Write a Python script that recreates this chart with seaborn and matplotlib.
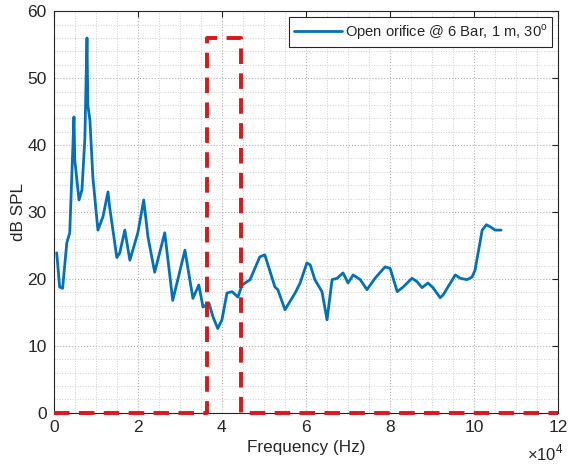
import numpy as np
import pandas as pd
import seaborn as sns
import matplotlib.pyplot as plt
from matplotlib.ticker import MultipleLocator, FuncFormatter

# Spectrum (frequency in units of 1e4 Hz, level in dB SPL)
freq_e4 = [0.07, 0.14, 0.21, 0.31, 0.38, 0.48, 0.50, 0.60, 0.67, 0.74, 0.79, 0.81,
           0.86, 0.93, 1.05, 1.17, 1.29, 1.33, 1.50, 1.57, 1.69, 1.81, 2.00, 2.14,
           2.24, 2.40, 2.64, 2.83, 3.12, 3.31, 3.45, 3.55, 3.69, 3.79, 3.90, 4.00,
           4.12, 4.24, 4.38, 4.48, 4.67, 4.90, 5.02, 5.26, 5.33, 5.50, 5.74, 5.86,
           6.02, 6.10, 6.21, 6.38, 6.50, 6.62, 6.74, 6.88, 7.00, 7.12, 7.29, 7.45,
           7.64, 7.88, 8.00, 8.17, 8.31, 8.52, 8.64, 8.76, 8.90, 9.02, 9.19, 9.26,
           9.55, 9.67, 9.83, 9.95, 10.02, 10.19, 10.29, 10.38, 10.50, 10.64]
spl_db = [23.9, 18.8, 18.6, 25.4, 26.9, 44.2, 37.8, 31.8, 33.3, 41.0, 56.0, 46.0,
          43.7, 35.2, 27.3, 29.3, 33.0, 30.7, 23.2, 23.9, 27.3, 22.8, 26.9, 31.8,
          26.3, 21.0, 26.9, 16.8, 24.3, 17.1, 19.1, 15.8, 16.4, 14.3, 12.6, 13.9,
          17.9, 18.1, 17.3, 19.1, 19.9, 23.3, 23.6, 18.8, 18.4, 15.4, 17.9, 19.4,
          22.4, 22.1, 19.9, 18.1, 13.9, 19.9, 20.1, 20.9, 19.4, 20.6, 19.9, 18.4,
          20.1, 21.8, 21.6, 18.1, 18.8, 20.1, 19.6, 18.7, 19.4, 18.7, 17.2, 17.6,
          20.6, 20.1, 19.9, 20.3, 21.3, 27.3, 28.1, 27.8, 27.3, 27.3]

# Highlighted band outline (dashed red)
band_x_e4 = [0, 3.64, 3.64, 4.45, 4.45, 12]
band_y = [0, 0, 56, 56, 0, 0]

legend_label = "Open orifice @ 6 Bar, 1 m, 30$^{\\mathrm{o}}$"

df = pd.DataFrame({"Frequency": np.array(freq_e4) * 1e4, "SPL": spl_db})

sns.set_style("white")
plt.rcParams["font.family"] = ["Liberation Sans", "DejaVu Sans"]
plt.rcParams["mathtext.fontset"] = "custom"
plt.rcParams["mathtext.rm"] = "Liberation Sans"

fig = plt.figure(figsize=(5.72, 4.67), dpi=100)
ax = fig.add_axes([0.094, 0.116, 0.882, 0.860])

sns.lineplot(data=df, x="Frequency", y="SPL", ax=ax, color="#0072BD",
             linewidth=2, label=legend_label)
ax.plot(np.array(band_x_e4) * 1e4, band_y, color="#e01515", linewidth=2.8,
        dashes=(4, 2.4), clip_on=False, zorder=3)

ax.set_xlim(0, 12e4)
ax.set_ylim(0, 60)
ax.xaxis.set_major_locator(MultipleLocator(2e4))
ax.xaxis.set_minor_locator(MultipleLocator(0.5e4))
ax.yaxis.set_major_locator(MultipleLocator(10))
ax.yaxis.set_minor_locator(MultipleLocator(2))
ax.xaxis.set_major_formatter(FuncFormatter(lambda v, p: f"{v / 1e4:g}"))

ax.grid(which="major", linestyle=":", color="#b0b0b0", linewidth=0.8)
ax.grid(which="minor", linestyle=":", color="#d0d0d0", linewidth=0.7)
ax.set_axisbelow(True)

ax.tick_params(which="major", direction="in", top=True, right=True, length=4,
               width=0.8, color="#262626", labelsize=12.5, labelcolor="#262626", pad=5)
ax.tick_params(which="minor", length=0)
for s in ax.spines.values():
    s.set_color("#262626")
    s.set_linewidth(0.8)

ax.set_xlabel("Frequency (Hz)", fontsize=12.3, color="#262626", labelpad=4)
ax.set_ylabel("dB SPL", fontsize=12.3, color="#262626", labelpad=1)
fig.text(0.922, 0.008, "$\\times10^{4}$", fontsize=12, color="#262626",
         ha="left", va="bottom")

leg = ax.legend(loc="upper right", fontsize=10.6, frameon=True, fancybox=False,
                edgecolor="#262626", framealpha=1, handlelength=3.2,
                borderaxespad=0.4, borderpad=0.35, handletextpad=0.2)
leg.get_frame().set_linewidth(0.8)

fig.savefig("out.png", dpi=100)
